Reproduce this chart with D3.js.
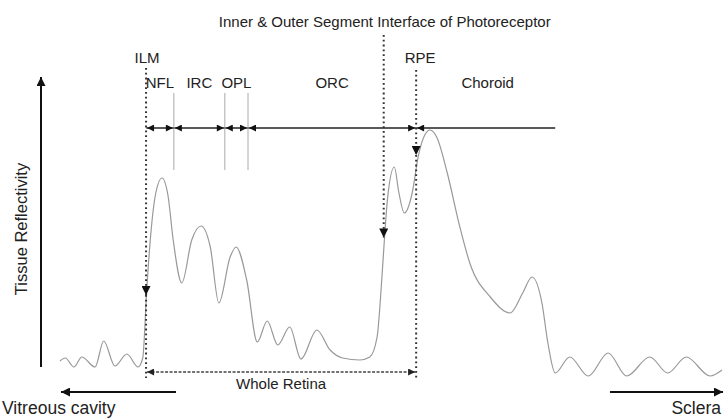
<!DOCTYPE html>
<html>
<head>
<meta charset="utf-8">
<script src="https://cdn.jsdelivr.net/npm/d3@7"></script>
<style>
  body { margin: 0; background: #fff; }
  text { font-family: "Liberation Sans", Arial, sans-serif; fill: #222; }
</style>
</head>
<body>
<svg></svg>
<script>
var width = 723;
var height = 419;

// A-scan profile: depth (0-100, vitreous -> sclera) and tissue reflectivity (0-100)
var depth = [0, 0.8, 2.1, 3.3, 5.3, 6.6, 8.3, 10.1, 11.8, 12.5, 13.1, 13.7, 14.5, 15.4, 16.3, 17.1,
  18.4, 19.9, 21.3, 22.7, 24.0, 25.7, 26.6, 28.2, 29.8, 31.3, 32.9, 34.7, 36.4, 38.8, 40.8, 42.7,
  45.3, 46.8, 47.9, 48.6, 49.1, 49.5, 50.5, 51.2, 52.0, 53.2, 54.1, 55.1, 55.9, 56.9, 58.5, 60.4,
  61.9, 65.0, 68.0, 69.9, 71.3, 72.8, 73.7, 74.8, 77.0, 79.8, 82.8, 85.6, 89.1, 91.8, 94.6, 98.2, 100];
var reflectivity = [7.6, 8.8, 5.2, 9.2, 5.2, 15.6, 5.6, 10.4, 5.2, 8.8, 36.0, 58.0, 75.2, 80.8, 74.0, 56.0,
  38.8, 56.0, 61.6, 53.2, 30.8, 49.2, 53.2, 40.0, 15.2, 23.6, 14.0, 21.2, 8.4, 20.0, 12.0, 8.8,
  8.0, 9.2, 17.2, 40.0, 60.0, 73.2, 85.2, 74.8, 66.8, 74.8, 89.2, 98.0, 100, 97.2, 82.8, 61.2,
  46.8, 33.2, 26.8, 34.8, 41.2, 30.8, 14.8, 2.8, 9.2, 1.6, 10.8, 1.6, 9.2, 2.8, 9.2, 1.6, 4.0];

// retinal layers, with the depth where each one starts / ends
var layerNames = ["NFL", "IRC", "OPL", "ORC", "Choroid"];
var layerBounds = [13.0, 17.2, 24.9, 28.4, 53.8, 74.8];

// boundaries marked with dotted arrows
var markerNames = ["ILM", "Inner & Outer Segment Interface of Photoreceptor", "RPE"];
var markerDepth = [13.0, 48.9, 53.8];
var markerTip = [34, 57, 90];

var svg = d3.select('svg')
    .attr('width', width)
    .attr('height', height);

var x = d3.scaleLinear().domain([0, 100]).range([60, 722]);
var y = d3.scaleLinear().domain([0, 100]).range([380, 130]);

// arrowheads
var defs = svg.append('defs');
function arrowHead(id, w, h, color) {
  defs.append('marker')
      .attr('id', id)
      .attr('viewBox', '0 0 10 10')
      .attr('refX', 10).attr('refY', 5)
      .attr('markerUnits', 'userSpaceOnUse')
      .attr('markerWidth', w).attr('markerHeight', h)
      .attr('orient', 'auto-start-reverse')
      .append('path')
      .attr('d', 'M0,0L10,5L0,10Z')
      .attr('fill', color);
}
arrowHead('big', 11, 9, '#111');
arrowHead('small', 8, 7, '#111');
arrowHead('down', 10, 9, '#111');
arrowHead('dash', 8, 7, '#222');

// y axis (Tissue Reflectivity)
svg.append('line')
    .attr('x1', 41).attr('x2', 41)
    .attr('y1', 367).attr('y2', 77)
    .attr('stroke', '#111').attr('stroke-width', 2)
    .attr('marker-end', 'url(#big)');

svg.append('text')
    .attr('transform', 'translate(27,' + 229 + ') rotate(-90)')
    .attr('text-anchor', 'middle')
    .style('font-size', '16.5px')
    .text('Tissue Reflectivity');

// reflectivity profile
var line = d3.line()
    .x(function (d, i) { return x(depth[i]); })
    .y(function (d, i) { return y(reflectivity[i]); })
    .curve(d3.curveMonotoneX);

svg.append('path')
    .datum(depth)
    .attr('d', line)
    .attr('fill', 'none')
    .attr('stroke', '#999')
    .attr('stroke-width', 1.2);

// layer boundary ticks
var rowY = 128;
svg.selectAll('.tick')
    .data(layerBounds.slice(1, 4))
    .enter().append('line')
    .attr('x1', function (d) { return x(d); })
    .attr('x2', function (d) { return x(d); })
    .attr('y1', 93).attr('y2', 170)
    .attr('stroke', '#aaa').attr('stroke-width', 1);

// horizontal layer row with arrows
svg.append('line')
    .attr('x1', x(layerBounds[0])).attr('x2', x(layerBounds[5]))
    .attr('y1', rowY).attr('y2', rowY)
    .attr('stroke', '#222').attr('stroke-width', 1);

svg.selectAll('.seg')
    .data(layerNames)
    .enter().append('line')
    .attr('x1', function (d, i) { return x(layerBounds[i]) + 1; })
    .attr('x2', function (d, i) { return i < 4 ? x(layerBounds[i + 1]) - 1 : x(layerBounds[i + 1]); })
    .attr('y1', rowY).attr('y2', rowY)
    .attr('stroke', '#222').attr('stroke-width', 1)
    .attr('marker-start', 'url(#small)')
    .attr('marker-end', function (d, i) { return i < 4 ? 'url(#small)' : null; });

svg.selectAll('.layer')
    .data(layerNames)
    .enter().append('text')
    .attr('x', function (d, i) { return (x(layerBounds[i]) + x(layerBounds[i + 1])) / 2 + (i == 4 ? 2 : 0); })
    .attr('y', 88)
    .attr('text-anchor', 'middle')
    .style('font-size', '15px')
    .text(function (d) { return d; });

// dotted marker lines
var dotStart = [68, 35, 70];
var dotEnd = [378, 0, 378];
markerNames.forEach(function (name, i) {
  var xx = x(markerDepth[i]);
  svg.append('line')
      .attr('x1', xx).attr('x2', xx)
      .attr('y1', dotStart[i]).attr('y2', y(markerTip[i]))
      .attr('stroke', '#333').attr('stroke-width', 2)
      .attr('stroke-dasharray', '1.8,3')
      .attr('marker-end', 'url(#down)');
  if (dotEnd[i]) {
    svg.append('line')
        .attr('x1', xx).attr('x2', xx)
        .attr('y1', y(markerTip[i])).attr('y2', dotEnd[i])
        .attr('stroke', '#333').attr('stroke-width', 2)
        .attr('stroke-dasharray', '1.8,3');
  }
  svg.append('text')
      .attr('x', xx + (i == 2 ? 4 : 1))
      .attr('y', i == 1 ? 27 : 63)
      .attr('text-anchor', 'middle')
      .style('font-size', '15px')
      .text(name);
});

// whole retina span
svg.append('line')
    .attr('x1', x(markerDepth[0]) + 1).attr('x2', x(markerDepth[2]) - 1)
    .attr('y1', 372).attr('y2', 372)
    .attr('stroke', '#444').attr('stroke-width', 1.3)
    .attr('stroke-dasharray', '3,1.5')
    .attr('marker-start', 'url(#dash)')
    .attr('marker-end', 'url(#dash)');

svg.append('text')
    .attr('x', (x(markerDepth[0]) + x(markerDepth[2])) / 2)
    .attr('y', 389)
    .attr('text-anchor', 'middle')
    .style('font-size', '15px')
    .text('Whole Retina');

// direction arrows
svg.append('line')
    .attr('x1', 176).attr('x2', 61)
    .attr('y1', 392).attr('y2', 392)
    .attr('stroke', '#111').attr('stroke-width', 2)
    .attr('marker-end', 'url(#big)');
svg.append('text')
    .attr('x', 2).attr('y', 414)
    .style('font-size', '17.5px')
    .text('Vitreous cavity');

svg.append('line')
    .attr('x1', 610).attr('x2', 723)
    .attr('y1', 392).attr('y2', 392)
    .attr('stroke', '#111').attr('stroke-width', 2)
    .attr('marker-end', 'url(#big)');
svg.append('text')
    .attr('x', 721).attr('y', 414)
    .attr('text-anchor', 'end')
    .style('font-size', '17.5px')
    .text('Sclera');
</script>
</body>
</html>
